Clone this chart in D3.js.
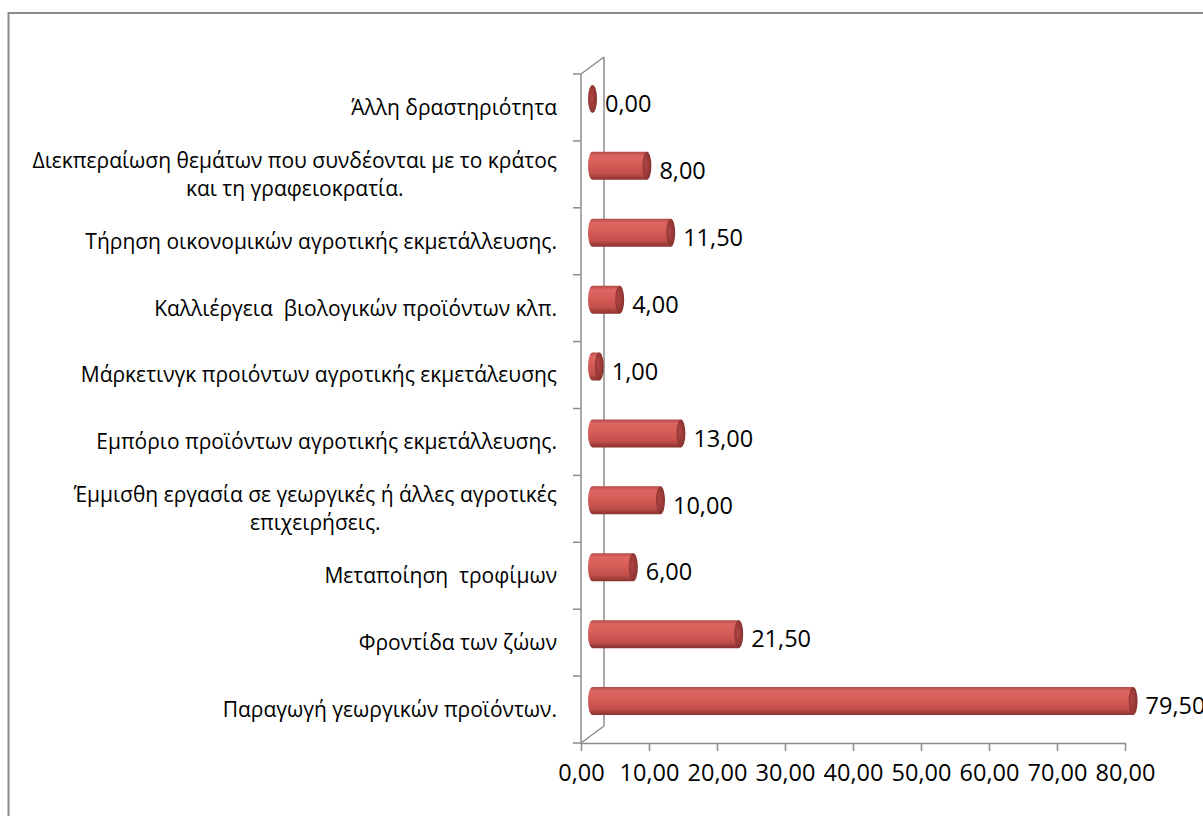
<!DOCTYPE html>
<html>
<head>
<meta charset="utf-8">
<script src="https://cdn.jsdelivr.net/npm/d3@7"></script>
<style>
  body { margin: 0; background: #fff; }
  text { font-family: "Open Sans", "Noto Sans", sans-serif; fill: #000; white-space: pre; }
</style>
</head>
<body>
<svg id="chart" width="1203" height="816"></svg>
<script>
// categories listed top -> bottom, "|" marks a wrapped line
var categories = [
  "Άλλη δραστηριότητα",
  "Διεκπεραίωση θεμάτων που συνδέονται με το κράτος|και τη γραφειοκρατία.",
  "Τήρηση οικονομικών αγροτικής εκμετάλλευσης.",
  "Καλλιέργεια  βιολογικών προϊόντων κλπ.",
  "Μάρκετινγκ προιόντων αγροτικής εκμετάλευσης",
  "Εμπόριο προϊόντων αγροτικής εκμετάλλευσης.",
  "Έμμισθη εργασία σε γεωργικές ή άλλες αγροτικές|επιχειρήσεις.",
  "Μεταποίηση  τροφίμων",
  "Φροντίδα των ζώων",
  "Παραγωγή γεωργικών προϊόντων."
];
var values = [0, 8, 11.5, 4, 1, 13, 10, 6, 21.5, 79.5];
var xTicks = [0, 10, 20, 30, 40, 50, 60, 70, 80];

var fmt = function(v) { return d3.format(".2f")(v).replace(".", ","); };

var svg = d3.select("#chart");

// chart area border (only top and left visible)
svg.append("rect")
    .attr("x", 8.5).attr("y", 13)
    .attr("width", 1220).attr("height", 830)
    .attr("fill", "none")
    .attr("stroke", "#8c8c8c")
    .attr("stroke-width", 2);

// gradients for the cylinders
var defs = svg.append("defs");
var body = defs.append("linearGradient").attr("id", "body")
    .attr("x1", 0).attr("y1", 0).attr("x2", 0).attr("y2", 1);
[["0%", "#b44a47"], ["14%", "#dc6662"], ["40%", "#d95e5a"], ["78%", "#c24f4b"], ["100%", "#8a3230"]]
    .forEach(function(s) { body.append("stop").attr("offset", s[0]).attr("stop-color", s[1]); });
var cap = defs.append("radialGradient").attr("id", "cap")
    .attr("cx", "40%").attr("cy", "45%").attr("r", "60%");
[["0%", "#b04543"], ["100%", "#873230"]]
    .forEach(function(s) { cap.append("stop").attr("offset", s[0]).attr("stop-color", s[1]); });

// scales
var x = d3.scaleLinear().domain([0, 80]).range([581, 1125]);
var y = d3.scaleBand().domain(categories).range([74, 743]);

var depth = [23, -17];      // 3D depth vector (front -> back wall)
var off = [depth[0] / 2, depth[1] / 2];
var ry = 14, rx = 4.5;
var axisCol = "#8c8c8c";

var axes = svg.append("g").attr("stroke", axisCol).attr("stroke-width", 1.5).attr("fill", "none");

// back wall edge and diagonals
axes.append("line")
    .attr("x1", x(0) + depth[0]).attr("y1", y.range()[0] + depth[1])
    .attr("x2", x(0) + depth[0]).attr("y2", y.range()[1] + depth[1]);
[y.range()[0], y.range()[1]].forEach(function(yy) {
  axes.append("line")
      .attr("x1", x(0)).attr("y1", yy)
      .attr("x2", x(0) + depth[0]).attr("y2", yy + depth[1]);
});

// front vertical axis + category ticks
axes.append("line")
    .attr("x1", x(0)).attr("y1", y.range()[0])
    .attr("x2", x(0)).attr("y2", y.range()[1]);
var bounds = categories.map(function(c) { return y(c); }).concat([y.range()[1]]);
bounds.forEach(function(b) {
  axes.append("line")
      .attr("x1", x(0) - 8).attr("y1", b)
      .attr("x2", x(0)).attr("y2", b);
});

// horizontal axis
var xAxis = svg.append("g")
    .attr("transform", "translate(0," + y.range()[1] + ")")
    .call(d3.axisBottom(x).tickValues(xTicks).tickFormat(fmt).tickSize(8).tickSizeOuter(0));
xAxis.select(".domain").attr("stroke", axisCol).attr("stroke-width", 1.5);
xAxis.selectAll(".tick line").attr("stroke", axisCol).attr("stroke-width", 1.5);
xAxis.selectAll(".tick text")
    .attr("y", 30)
    .attr("dy", "0.35em")
    .style("font-size", "23.5px")
    .style("font-family", "'Open Sans', sans-serif")
    .attr("fill", "#000");

// category labels
var labels = svg.append("g").style("font-size", "21px");
categories.forEach(function(c) {
  var lines = c.split("|");
  var cy = y(c) + y.bandwidth() / 2;
  var lh = 28;
  var g = labels.append("g");
  var texts = lines.map(function(l, i) {
    return g.append("text")
        .attr("y", cy + (i - (lines.length - 1) / 2) * lh)
        .attr("dy", "0.35em")
        .text(l);
  });
  var widths = texts.map(function(t) { return t.node().getComputedTextLength(); });
  var maxW = d3.max(widths);
  var right = x(0) - 24;
  texts.forEach(function(t) {
    t.attr("x", right - maxW / 2).attr("text-anchor", "middle");
  });
});

// cylinders
var bars = svg.append("g");
categories.forEach(function(c, i) {
  var v = values[i];
  var cy = y(c) + y.bandwidth() / 2 + off[1];
  var x0 = x(0) + off[0], x1 = x(v) + off[0];
  if (v > 0) {
    bars.append("path")
        .attr("d", "M" + x1 + "," + (cy - ry) +
                   "L" + x0 + "," + (cy - ry) +
                   "A" + rx + "," + ry + " 0 0 0 " + x0 + "," + (cy + ry) +
                   "L" + x1 + "," + (cy + ry) + "Z")
        .attr("fill", "url(#body)");
  }
  bars.append("ellipse")
      .attr("cx", x1).attr("cy", cy)
      .attr("rx", rx).attr("ry", ry)
      .attr("fill", "url(#cap)");

  svg.append("text")
      .attr("x", x1 + rx + 8)
      .attr("y", y(c) + y.bandwidth() / 2 - 3.5)
      .attr("dy", "0.35em")
      .style("font-size", "23.5px")
      .text(fmt(v));
});
</script>
</body>
</html>
